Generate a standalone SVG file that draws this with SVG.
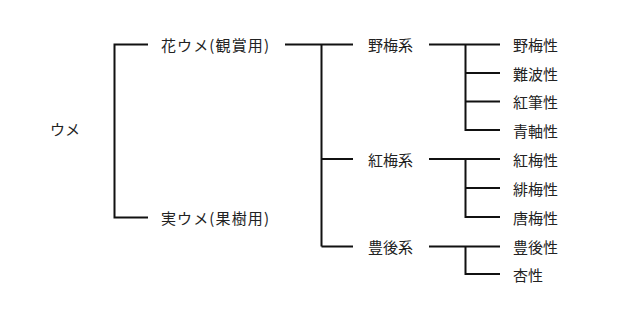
<svg xmlns="http://www.w3.org/2000/svg" width="640" height="313" viewBox="0 0 640 313">
<style>
text{font-family:"Noto Sans CJK JP","Noto Sans",sans-serif;font-size:15px;fill:#222;dominant-baseline:central}
.c path{fill:none;stroke:#111;stroke-width:2}
</style>
<rect width="640" height="313" fill="#fff"/>
<g class="c" id="connectors">
<path d="M148,44.5H114.5V217.5H148"/>
<path d="M285,44.5H353M321.5,44.5V246.5M321.5,159H353M321.5,246.5H353"/>
<path d="M429,44.5H500M465.5,44.5V130H500M465.5,73H500M465.5,101.5H500"/>
<path d="M429,159H500M465.5,159V217H500M465.5,188H500"/>
<path d="M429,246.5H500M465.5,246.5V274H500"/>
</g>
<g id="n-ume"><text x="50" y="128">ウメ</text></g>
<g id="n-hana"><text x="161" y="44" textLength="108" lengthAdjust="spacing">花ウメ(観賞用)</text></g>
<g id="n-mi"><text x="161" y="217" textLength="108" lengthAdjust="spacing">実ウメ(果樹用)</text></g>
<g id="n-yabaikei"><text x="368" y="44">野梅系</text></g>
<g id="n-kobaikei"><text x="368" y="159">紅梅系</text></g>
<g id="n-bungokei"><text x="368" y="246">豊後系</text></g>
<g id="n-yabaisei"><text x="513" y="44">野梅性</text></g>
<g id="n-naniwa"><text x="513" y="73">難波性</text></g>
<g id="n-kohitsu"><text x="513" y="101">紅筆性</text></g>
<g id="n-aojiku"><text x="513" y="130">青軸性</text></g>
<g id="n-kobaisei"><text x="513" y="159">紅梅性</text></g>
<g id="n-hibai"><text x="513" y="188">緋梅性</text></g>
<g id="n-toubai"><text x="513" y="217">唐梅性</text></g>
<g id="n-bungosei"><text x="513" y="246">豊後性</text></g>
<g id="n-anzu"><text x="513" y="274">杏性</text></g>
</svg>
